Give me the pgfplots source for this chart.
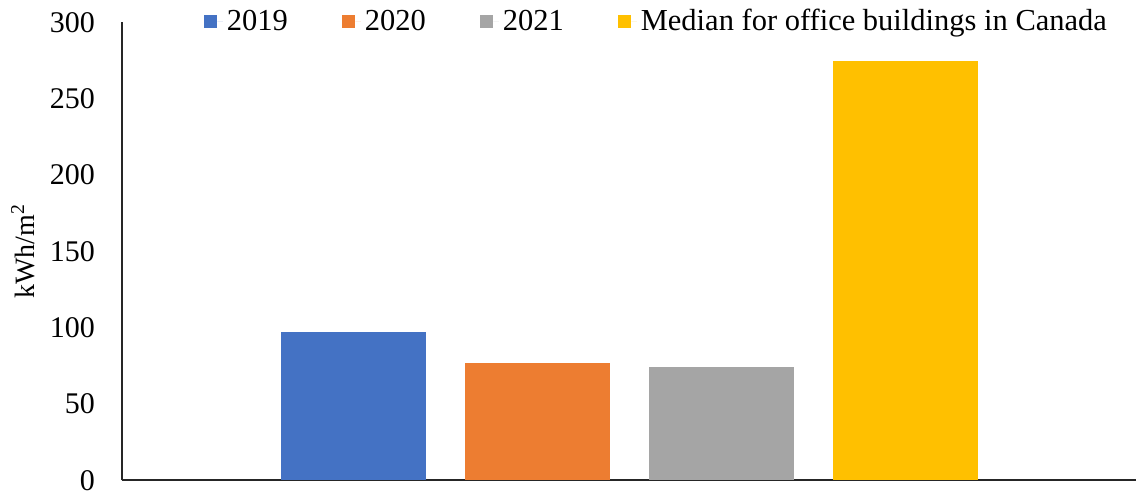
\documentclass[border=0pt]{standalone}
\usepackage{pgfplots}
\pgfplotsset{compat=1.18}
\usepackage{fontspec}
\setmainfont{Liberation Serif}
\definecolor{c1}{HTML}{4472C4}
\definecolor{c2}{HTML}{ED7D31}
\definecolor{c3}{HTML}{A5A5A5}
\definecolor{c4}{HTML}{FFC000}
\begin{document}
\begin{tikzpicture}
\begin{axis}[
  name=ax,
  scale only axis,
  width=507pt, height=229pt,
  ybar, bar width=0.788,
  xmin=-1.258, xmax=4.25,
  ymin=0, ymax=300,
  ytick={0,50,...,300},
  xtick=\empty,
  axis x line=bottom, axis y line=left,
  axis line style={-, line width=0.9pt, black!85},
  major tick length=0pt,
  tick label style={font=\fontsize{15}{17}\selectfont},
  yticklabel style={xshift=-10pt},
  /pgf/number format/assume math mode=true,
  ylabel={kWh/m\textsuperscript{2}},
  ylabel style={font=\fontsize{14}{16}\selectfont, at={(axis description cs:-0.0975,0.5)}, anchor=center},
  legend columns=4,
  legend style={draw=none, fill=none, at={(axis description cs:0.528,1)}, anchor=center, yshift=0.5pt,
    font=\fontsize{15.25}{17}\selectfont,
    /tikz/every even column/.append style={column sep=25pt},
    /tikz/every odd column/.append style={column sep=0pt}},
  legend image code/.code={\fill[#1] (0pt,-3.4pt) rectangle (6.8pt,3.4pt); \path (6.8pt,0pt) -- (9.5pt,0pt);},
]
\addplot[fill=c1, draw=none, bar shift=0pt] coordinates {(0,97)};
\addplot[fill=c2, draw=none, bar shift=0pt] coordinates {(1,77)};
\addplot[fill=c3, draw=none, bar shift=0pt] coordinates {(2,74)};
\addplot[fill=c4, draw=none, bar shift=0pt] coordinates {(3,275)};
\legend{2019,2020,2021,Median for office buildings in Canada}
\end{axis}
\pgfresetboundingbox
\path ([xshift=-61pt,yshift=-5.3pt]ax.south west) rectangle ([xshift=508.5pt,yshift=240.2pt]ax.south west);
\end{tikzpicture}
\end{document}
